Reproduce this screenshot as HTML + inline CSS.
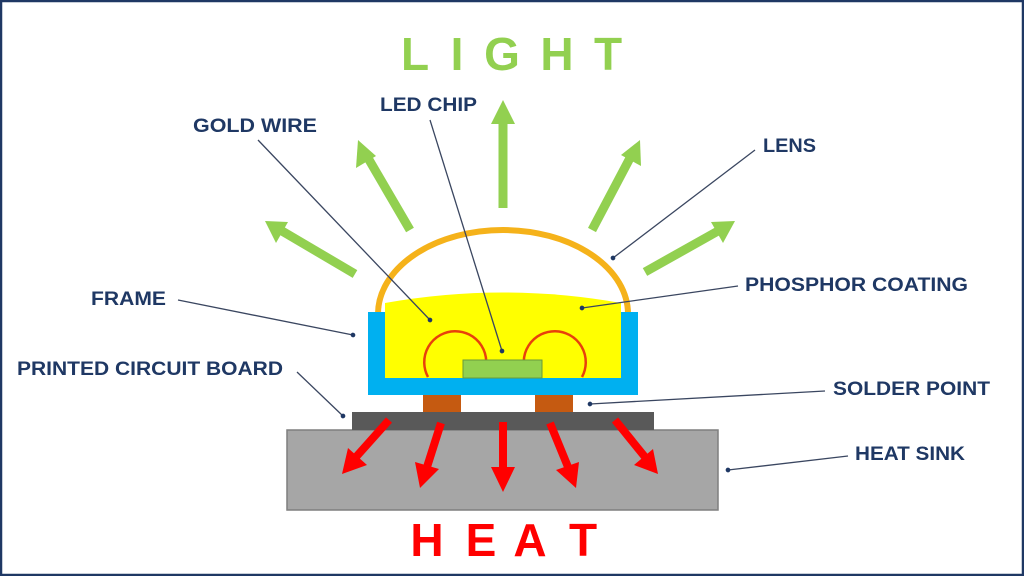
<!DOCTYPE html>
<html><head><style>
html,body{margin:0;padding:0;background:#fff}
svg{display:block}
.l{font-family:"Liberation Sans",sans-serif;font-weight:bold;font-size:19px;fill:#1f3864}
.big{font-family:"Liberation Sans",sans-serif;font-weight:bold;font-size:46px;text-anchor:middle}
</style></head><body>
<svg width="1024" height="576" viewBox="0 0 1024 576" xmlns="http://www.w3.org/2000/svg">
<defs>
<marker id="d" markerWidth="6" markerHeight="6" refX="3" refY="3" orient="auto"><circle cx="3" cy="3" r="1.8" fill="#1f3864"/></marker>
</defs>
<rect x="1" y="1" width="1022" height="574" fill="#fff" stroke="#1f3864" stroke-width="2.5"/>
<g class="big" fill="#92d050">
<text x="415" y="70">L</text><text x="457" y="70">I</text><text x="502" y="70">G</text><text x="557" y="70">H</text><text x="608" y="70">T</text>
</g>
<g class="big" fill="#ff0000">
<text x="427" y="556">H</text><text x="481" y="556">E</text><text x="530" y="556">A</text><text x="583" y="556">T</text>
</g>
<g fill="#92d050" stroke="#92d050">
<line x1="503" y1="208" x2="503" y2="120" stroke-width="9"/><polygon points="503,100 491,124 515,124" stroke="none"/>
<line x1="410" y1="230" x2="368" y2="158" stroke-width="9"/><polygon points="358,140 356,168 376,156" stroke="none"/>
<line x1="355" y1="274" x2="282" y2="231" stroke-width="9"/><polygon points="265,221 276,243 288,222" stroke="none"/>
<line x1="592" y1="230" x2="630" y2="158" stroke-width="9"/><polygon points="640,140 621,155 641,166" stroke="none"/>
<line x1="645" y1="272" x2="718" y2="231" stroke-width="9"/><polygon points="735,221 711,222 723,243" stroke="none"/>
</g>
<rect x="287" y="430" width="431" height="80" fill="#a6a6a6" stroke="#7f7f7f" stroke-width="1.5"/>
<rect x="352" y="412" width="302" height="18" fill="#595959"/>
<rect x="423" y="395" width="38" height="17" fill="#c55a11"/>
<rect x="535" y="395" width="38" height="17" fill="#c55a11"/>
<g fill="#ff0000" stroke="#ff0000">
<line x1="389" y1="420" x2="356" y2="457" stroke-width="8"/><polygon points="342,474 348,448 367,465" stroke="none"/>
<line x1="441" y1="423" x2="427" y2="467" stroke-width="8"/><polygon points="420,488 415,462 439,469" stroke="none"/>
<line x1="503" y1="422" x2="503" y2="470" stroke-width="8"/><polygon points="503,492 491,467 515,467" stroke="none"/>
<line x1="550" y1="423" x2="568" y2="467" stroke-width="8"/><polygon points="576,488 556,470 579,462" stroke="none"/>
<line x1="615" y1="420" x2="645" y2="457" stroke-width="8"/><polygon points="658,474 634,465 653,449" stroke="none"/>
</g>
<path d="M378,314 A125,84 0 0 1 628,314" fill="none" stroke="#f5b21a" stroke-width="6"/>
<path d="M385,378 L385,303 Q503,282 621,303 L621,378 Z" fill="#ffff00"/>
<path d="M368,312 H385 V378 H621 V312 H638 V395 H368 Z" fill="#00b0f0"/>
<path d="M428,377 A31,31 0 1 1 483,376" fill="none" stroke="#e8400c" stroke-width="2.5"/>
<path d="M527,376 A31,31 0 1 1 582,377" fill="none" stroke="#e8400c" stroke-width="2.5"/>
<rect x="463" y="360" width="79" height="18" fill="#92d050" stroke="#6a9a3a" stroke-width="1"/>
<g stroke="#3a4660" stroke-width="1.3" marker-end="url(#d)">
<line x1="258" y1="140" x2="430" y2="320"/>
<line x1="430" y1="120" x2="502" y2="351"/>
<line x1="755" y1="150" x2="613" y2="258"/>
<line x1="738" y1="286" x2="582" y2="308"/>
<line x1="178" y1="300" x2="353" y2="335"/>
<line x1="297" y1="372" x2="343" y2="416"/>
<line x1="825" y1="391" x2="590" y2="404"/>
<line x1="848" y1="456" x2="728" y2="470"/>
</g>
<text class="l" x="193" y="132" textLength="124" lengthAdjust="spacingAndGlyphs">GOLD WIRE</text>
<text class="l" x="380" y="111" textLength="97" lengthAdjust="spacingAndGlyphs">LED CHIP</text>
<text class="l" x="763" y="152" textLength="53" lengthAdjust="spacingAndGlyphs">LENS</text>
<text class="l" x="745" y="291" textLength="223" lengthAdjust="spacingAndGlyphs">PHOSPHOR COATING</text>
<text class="l" x="91" y="305" textLength="75" lengthAdjust="spacingAndGlyphs">FRAME</text>
<text class="l" x="17" y="375" textLength="266" lengthAdjust="spacingAndGlyphs">PRINTED CIRCUIT BOARD</text>
<text class="l" x="833" y="395" textLength="157" lengthAdjust="spacingAndGlyphs">SOLDER POINT</text>
<text class="l" x="855" y="460" textLength="110" lengthAdjust="spacingAndGlyphs">HEAT SINK</text>
</svg>
</body></html>
